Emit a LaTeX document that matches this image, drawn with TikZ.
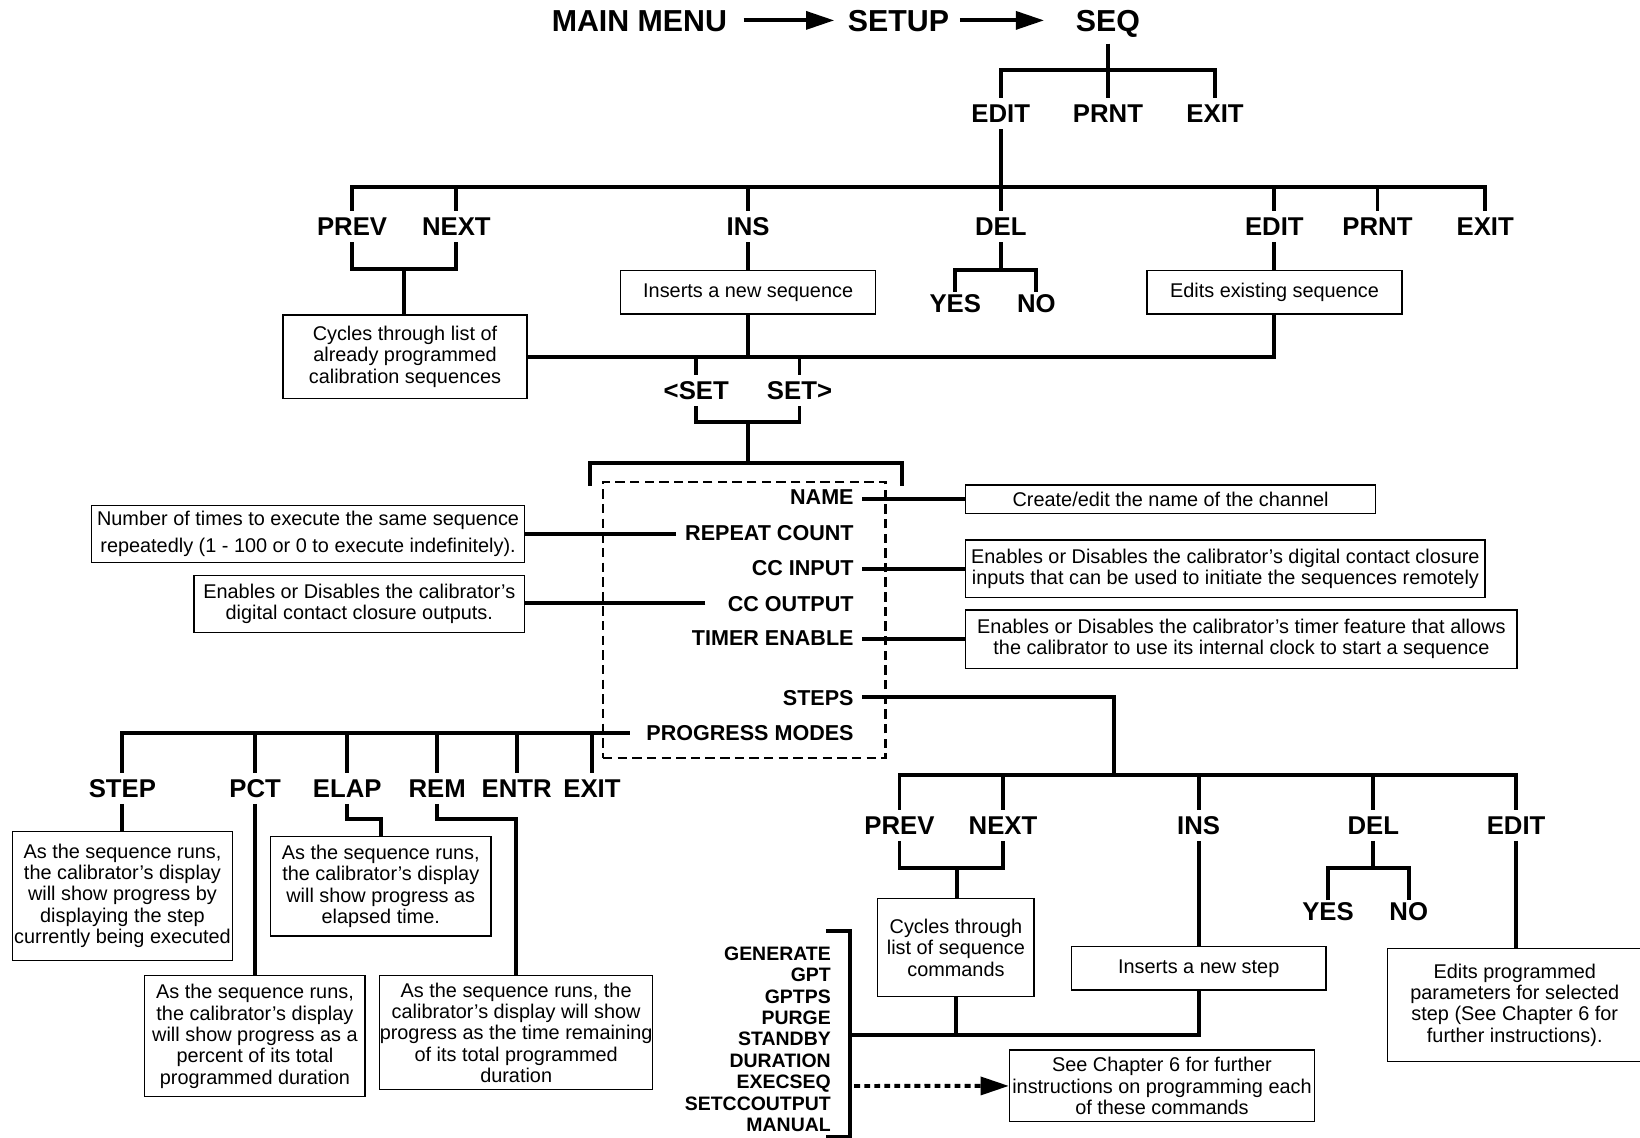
\documentclass[tikz,border=0pt]{standalone}
\usepackage{fontspec}
\setmainfont{Liberation Sans}
\usepackage{tikz}
\usetikzlibrary{arrows.meta,calc,positioning}
\tikzstyle{link} = [line width=1.9pt]
\tikzstyle{mainkey} = [font=\bfseries\fontsize{14.5}{17}\selectfont,
text height=10.4pt, text depth=0pt, inner sep=0pt]
\tikzstyle{menukey} = [font=\bfseries\fontsize{12.3}{14}\selectfont,
text height=8.8pt, text depth=0pt, inner xsep=1pt, inner ysep=2.9pt]
\tikzstyle{leafkey} = [menukey, inner ysep=1pt]
\tikzstyle{itemkey} = [font=\bfseries\fontsize{10.3}{12}\selectfont,
text height=7.4pt, text depth=0pt, inner xsep=4pt, inner ysep=1pt, anchor=east]
\tikzstyle{cmdkey} = [font=\bfseries\fontsize{9.3}{11}\selectfont,
text height=6.7pt, text depth=0pt, inner sep=0pt, anchor=east]
\tikzstyle{notebox} = [draw, line width=0.6pt, fill=white, inner sep=0pt,
align=center, font=\fontsize{9.5}{10.2}\selectfont]
\tikzstyle{dashbox} = [draw, line width=1pt, dash pattern=on 4.5pt off 2.5pt, inner sep=0pt]
\tikzstyle{arrowlink} = [line width=1.9pt, -{Triangle[length=13.5pt,width=8.5pt]}]
\tikzstyle{dotlink} = [arrowlink, dash pattern=on 2.8pt off 2pt]

\begin{document}
\begin{tikzpicture}[x=0.5pt,y=-0.5pt]
	\useasboundingbox (0,0) rectangle (1568,1088);

	% MAIN MENU -> SETUP -> SEQ
	\node[mainkey] (mainmenu) at (611.3,19.5) {MAIN MENU};
	\node[mainkey] (setup) at (859,19.5) {SETUP};
	\node[mainkey] (seq) at (1059.3,19.5) {SEQ};
	\draw[arrowlink, shorten <=7.7pt, shorten >=6.3pt] (mainmenu.east) -- (setup.west);
	\draw[arrowlink, shorten <=5pt, shorten >=15pt] (setup.east) -- (seq.west);

	\node[menukey] (edit1) at (956.8,108.4) {EDIT};
	\node[menukey] (prnt1) at (1059.3,108.4) {PRNT};
	\node[menukey] (exit1) at (1161.7,108.4) {EXIT};
	\coordinate (seqfork) at (1059.3,67);
	\draw[link, shorten <=5.7pt] (seq.south) -- (prnt1.north);
	\draw[link] (edit1.north) |- (seqfork) -| (exit1.north);

	% EDIT
	\node[menukey] (prev2) at (336.6,216.7) {PREV};
	\node[menukey] (next2) at (436.3,216.7) {NEXT};
	\node[menukey] (ins2) at (715.3,216.7) {INS};
	\node[menukey] (del2) at (956.8,216.7) {DEL};
	\node[menukey] (edit2) at (1218.4,216.7) {EDIT};
	\node[menukey] (prnt2) at (1317,216.7) {PRNT};
	\node[menukey] (exit2) at (1420,216.7) {EXIT};
	\coordinate (editfork) at (956.8,179);
	\draw[link] (edit1.south) -- (del2.north);
	\draw[link] (prev2.north) |- (editfork) -| (exit2.north);
	\foreach \n in {next2,ins2,edit2,prnt2}
		\draw[link] (\n.north) -- (\n.north |- editfork);

	\node[notebox, minimum width=116.75pt, minimum height=39.8pt] (cycle1) at (387.2,341)
		{Cycles through list of\\already programmed\\calibration sequences};
	\node[notebox, minimum width=121.7pt, minimum height=20.7pt] (insnote) at (715.3,279.5)
		{Inserts a new sequence};
	\node[notebox, minimum width=121.95pt, minimum height=20.7pt] (editnote) at (1218.5,279.5)
		{Edits existing sequence};
	\coordinate (pnfork) at (386.7,257.5);
	\draw[link] (prev2.south) |- (pnfork) -| (next2.south);
	\draw[link] (pnfork) -- (pnfork |- cycle1.north);
	\draw[link] (ins2.south) -- (insnote.north);
	\draw[link] (edit2.south) -- (edit2.south |- editnote.north);

	\node[leafkey] (yes2) at (913.3,290) {YES};
	\node[leafkey] (no2) at (990.9,290) {NO};
	\coordinate (delfork) at (956.8,258.2);
	\draw[link] (del2.south) -- (delfork);
	\draw[link] (yes2.north) |- (delfork) -| (no2.north);

	\draw[link] (cycle1.east) -| (editnote.south);
	\draw[link] (insnote.south) -- (insnote.south |- cycle1.east);

	% <SET SET>
	\node[menukey] (lset) at (665.7,373.5) {<SET};
	\node[menukey] (rset) at (764.4,373.5) {SET>};
	\draw[link] (lset.north) -- (lset.north |- cycle1.east);
	\draw[link] (rset.north) -- (rset.north |- cycle1.east);
	\coordinate (setfork) at (715.3,403.8);
	\coordinate (boxfork) at (715.3,442.7);
	\coordinate (boxl) at (563.7,464.4);
	\coordinate (boxr) at (862.5,464.4);
	\draw[link] (lset.south) |- (setfork) -| (rset.south);
	\draw[link] (setfork) -- (boxfork);
	\draw[link] (boxl) |- (boxfork) -| (boxr);

	\node[dashbox, minimum width=135.05pt, minimum height=132.25pt] (setbox) at (711.55,592.75) {};
	\node[itemkey] (name) at (824.5,474.9) {NAME};
	\node[itemkey] (rcount) at (824.5,509.3) {REPEAT COUNT};
	\node[itemkey] (ccin) at (824.5,542.8) {CC INPUT};
	\node[itemkey] (ccout) at (824.5,576.9) {CC OUTPUT};
	\node[itemkey] (timer) at (824.5,609.4) {TIMER ENABLE};
	\node[itemkey] (steps) at (824.5,666.7) {STEPS};
	\node[itemkey] (progress) at (824.5,700.5) {PROGRESS MODES};

	\node[notebox, minimum width=195.8pt, minimum height=13.55pt] (namenote) at (1119.2,477.25)
		{Create/edit the name of the channel};
	\node[notebox, minimum width=207.05pt, minimum height=27.5pt,
		font=\fontsize{9.5}{12.7}\selectfont] (rcountnote) at (294.55,510.5)
		{Number of times to execute the same sequence\\repeatedly (1 - 100 or 0 to execute indefinitely).};
	\node[notebox, minimum width=248.2pt, minimum height=27.35pt] (ccinnote) at (1171.6,543.65)
		{Enables or Disables the calibrator's digital contact closure\\inputs that can be used to initiate the sequences remotely};
	\node[notebox, minimum width=158.05pt, minimum height=27.5pt] (ccoutnote) at (343.55,577.5)
		{Enables or Disables the calibrator's\\digital contact closure outputs.};
	\node[notebox, minimum width=263.5pt, minimum height=27.9pt] (timernote) at (1186.9,611.1)
		{Enables or Disables the calibrator's timer feature that allows\\the calibrator to use its internal clock to start a sequence};
	\draw[link] (namenote.west) -- (namenote.west -| name.east);
	\draw[link] (rcountnote.east) -- (rcountnote.east -| rcount.west);
	\draw[link] (ccinnote.west) -- (ccinnote.west -| ccin.east);
	\draw[link, shorten <=6.6pt] (ccout.west) -- (ccout.west -| ccoutnote.east);
	\draw[link] (timernote.west) -- (timernote.west -| timer.east);

	% PROGRESS MODES
	\node[menukey] (pstep) at (117,753.6) {STEP};
	\node[menukey] (ppct) at (244,753.6) {PCT};
	\node[menukey] (pelap) at (332,753.6) {ELAP};
	\node[menukey] (prem) at (418,753.6) {REM};
	\node[menukey] (pentr) at (494,753.6) {ENTR};
	\node[menukey] (pexit) at (566,753.6) {EXIT};
	\draw[link, shorten <=3.75pt] (progress.west) -| (pstep.north);
	\foreach \n in {ppct,pelap,prem,pentr,pexit}
		\draw[link] (\n.north) -- (\n.north |- progress.west);

	\node[notebox, minimum width=105.5pt, minimum height=61.5pt] (stepnote) at (117.1,856.5)
		{As the sequence runs,\\the calibrator's display\\will show progress by\\displaying the step\\currently being executed};
	\node[notebox, minimum width=105.25pt, minimum height=57.8pt] (pctnote) at (243.75,990.8)
		{As the sequence runs,\\the calibrator's display\\will show progress as a\\percent of its total\\programmed duration};
	\node[notebox, minimum width=105.35pt, minimum height=47.5pt] (elapnote) at (364.05,847.5)
		{As the sequence runs,\\the calibrator's display\\will show progress as\\elapsed time.};
	\node[notebox, minimum width=130.5pt, minimum height=54.25pt] (remnote) at (493.5,987.25)
		{As the sequence runs, the\\calibrator's display will show\\progress as the time remaining\\of its total programmed\\duration};
	\draw[link] (pstep.south) -- (pstep.south |- stepnote.north);
	\draw[link] (ppct.south) -- (ppct.south |- pctnote.north);
	\draw[link] (pelap.south) |- ($(elapnote.north)+(0,-16)$) -- (elapnote.north);
	\draw[link] (prem.south) |- ($(remnote.north)+(0,-149)$) -- (remnote.north);

	% STEPS
	\node[menukey] (sprev) at (860,789) {PREV};
	\node[menukey] (snext) at (959,789) {NEXT};
	\node[menukey] (sins) at (1146,789) {INS};
	\node[menukey] (sdel) at (1313,789) {DEL};
	\node[menukey] (sedit) at (1449.5,789) {EDIT};
	\coordinate (stepsfork) at (1065,741);
	\draw[link] (steps.east) -| (stepsfork);
	\draw[link] (sprev.north) |- (stepsfork) -| (sedit.north);
	\foreach \n in {snext,sins,sdel}
		\draw[link] (\n.north) -- (\n.north |- stepsfork);

	\node[notebox, minimum width=74.65pt, minimum height=47pt] (cycle2) at (913.95,906)
		{Cycles through\\list of sequence\\commands};
	\node[notebox, minimum width=121.75pt, minimum height=20.8pt] (insstep) at (1146.05,925.8)
		{Inserts a new step};
	\node[notebox, minimum width=121.75pt, minimum height=54.2pt] (editstep) at (1448.25,960.9)
		{Edits programmed\\parameters for selected\\step (See Chapter 6 for\\further instructions).};
	\coordinate (spnfork) at (914.8,830);
	\draw[link] (sprev.south) |- (spnfork) -| (snext.south);
	\draw[link] (spnfork) -- (spnfork |- cycle2.north);
	\draw[link] (sins.south) -- (sins.south |- insstep.north);
	\draw[link] (sedit.south) -- (sedit.south |- editstep.north);

	\node[leafkey] (syes) at (1269.7,871.7) {YES};
	\node[leafkey] (sno) at (1346.9,871.7) {NO};
	\coordinate (sdelfork) at (1313,830);
	\draw[link] (sdel.south) -- (sdelfork);
	\draw[link] (syes.north) |- (sdelfork) -| (sno.north);

	% sequence commands
	\foreach \c [count=\i] in {GENERATE,GPT,GPTPS,PURGE,STANDBY,DURATION,EXECSEQ,SETCCOUTPUT,MANUAL}
		\node[cmdkey] (cmd\i) at (794.7,{911.5+20.44*(\i-1)}) {\c};
	\coordinate (brtop) at (812.7,889.8);
	\coordinate (brbot) at (812.7,1086.8);
	\coordinate (cmdjoin) at (812.7,989.6);
	\coordinate (cmdarrow) at (812.7,1038.3);
	\draw[link] (brtop) ++(-23.2,0) -- (brtop) -- (brbot) -- ++(-23.2,0);
	\draw[link] (cmdjoin) -| (insstep.south);
	\draw[link] (cycle2.south) -- (cycle2.south |- cmdjoin);

	\node[notebox, minimum width=145.75pt, minimum height=34.25pt] (chapnote) at (1110.95,1038.25)
		{See Chapter 6 for further\\instructions on programming each\\of these commands};
	\draw[dotlink, shorten <=2pt] (cmdarrow) -- (chapnote.west);
\end{tikzpicture}
\end{document}
